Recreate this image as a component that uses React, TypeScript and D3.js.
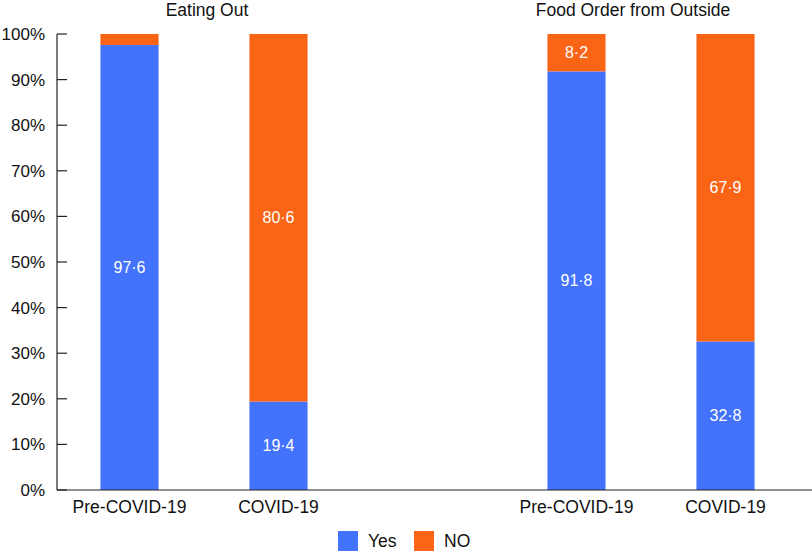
import * as d3 from "d3";

const groups = ["Eating Out", "Food Order from Outside"];
const periods = ["Pre-COVID-19", "COVID-19"];
const yesValues = [97.6, 19.4, 91.8, 32.8];
const noValues = [2.4, 80.6, 8.2, 67.9];
const showNoLabel = [false, true, true, true];
const yTicks = [0, 10, 20, 30, 40, 50, 60, 70, 80, 90, 100];
const seriesNames = ["Yes", "NO"];
const colors = ["#4372fd", "#fa6415"];

const width = 812;
const height = 551;
const font = "'Liberation Sans', Arial, Helvetica, sans-serif";

const App = () => {
  const slots = ["a0", "a1", "gap", "b0", "b1"];
  const barSlots = ["a0", "a1", "b0", "b1"];
  const x = d3.scaleBand().domain(slots).range([55, 800]).paddingInner(0.61).paddingOuter(0.305);
  const y = d3.scaleLinear().domain([0, 100]).range([490, 34]);
  const fmt = (v: number) => d3.format(".1f")(v).replace(".", "·");

  const bars = barSlots.map((s, i) => {
    const total = yesValues[i] + noValues[i];
    const yes = (yesValues[i] / total) * 100;
    return { slot: s, i, yes, label: periods[i % 2] };
  });

  const groupCenter = (g: number) => {
    const a = x(barSlots[g * 2])! + x.bandwidth() / 2;
    const b = x(barSlots[g * 2 + 1])! + x.bandwidth() / 2;
    return (a + b) / 2;
  };

  return (
    <svg width={width} height={height} style={{ position: "absolute", left: 0, top: 0 }} fontFamily={font}>
      {groups.map((g, gi) => (
        <text key={g} x={gi === 0 ? groupCenter(0) + 3 : groupCenter(1) - 18} y={16} textAnchor="middle" fontSize={17.5} fill="#111">
          {g}
        </text>
      ))}
      {bars.map(b => {
        const bx = x(b.slot)!;
        const bw = x.bandwidth();
        return (
          <g key={b.slot}>
            <rect x={bx} y={y(b.yes)} width={bw} height={y(0) - y(b.yes)} fill={colors[0]} />
            <rect x={bx} y={y(100)} width={bw} height={y(b.yes) - y(100)} fill={colors[1]} />
            <text x={bx + bw / 2} y={(y(b.yes) + y(0)) / 2} dy="0.35em" textAnchor="middle" fontSize={16} fill="#fff">
              {fmt(yesValues[b.i])}
            </text>
            {showNoLabel[b.i] && (
              <text x={bx + bw / 2} y={(y(b.yes) + y(100)) / 2} dy="0.35em" textAnchor="middle" fontSize={16} fill="#fff">
                {fmt(noValues[b.i])}
              </text>
            )}
            <text x={bx + bw / 2} y={513} textAnchor="middle" fontSize={17.5} fill="#111">
              {b.label}
            </text>
          </g>
        );
      })}
      <line x1={57} x2={57} y1={y(100)} y2={y(0)} stroke="#222" strokeWidth={1.2} />
      <line x1={57} x2={812} y1={y(0)} y2={y(0)} stroke="#222" strokeWidth={1.2} />
      {yTicks.map(t => (
        <g key={t}>
          <line x1={57} x2={67} y1={y(t)} y2={y(t)} stroke="#222" strokeWidth={1.2} />
          <text x={45} y={y(t)} dy="0.35em" textAnchor="end" fontSize={17} fill="#111">
            {t}%
          </text>
        </g>
      ))}
      {seriesNames.map((s, i) => (
        <g key={s} transform={`translate(${338 + i * 76},531)`}>
          <rect x={0} y={0} width={20} height={20} fill={colors[i]} />
          <text x={30} y={10} dy="0.35em" fontSize={17.5} fill="#111">
            {s}
          </text>
        </g>
      ))}
    </svg>
  );
};

export default App;
